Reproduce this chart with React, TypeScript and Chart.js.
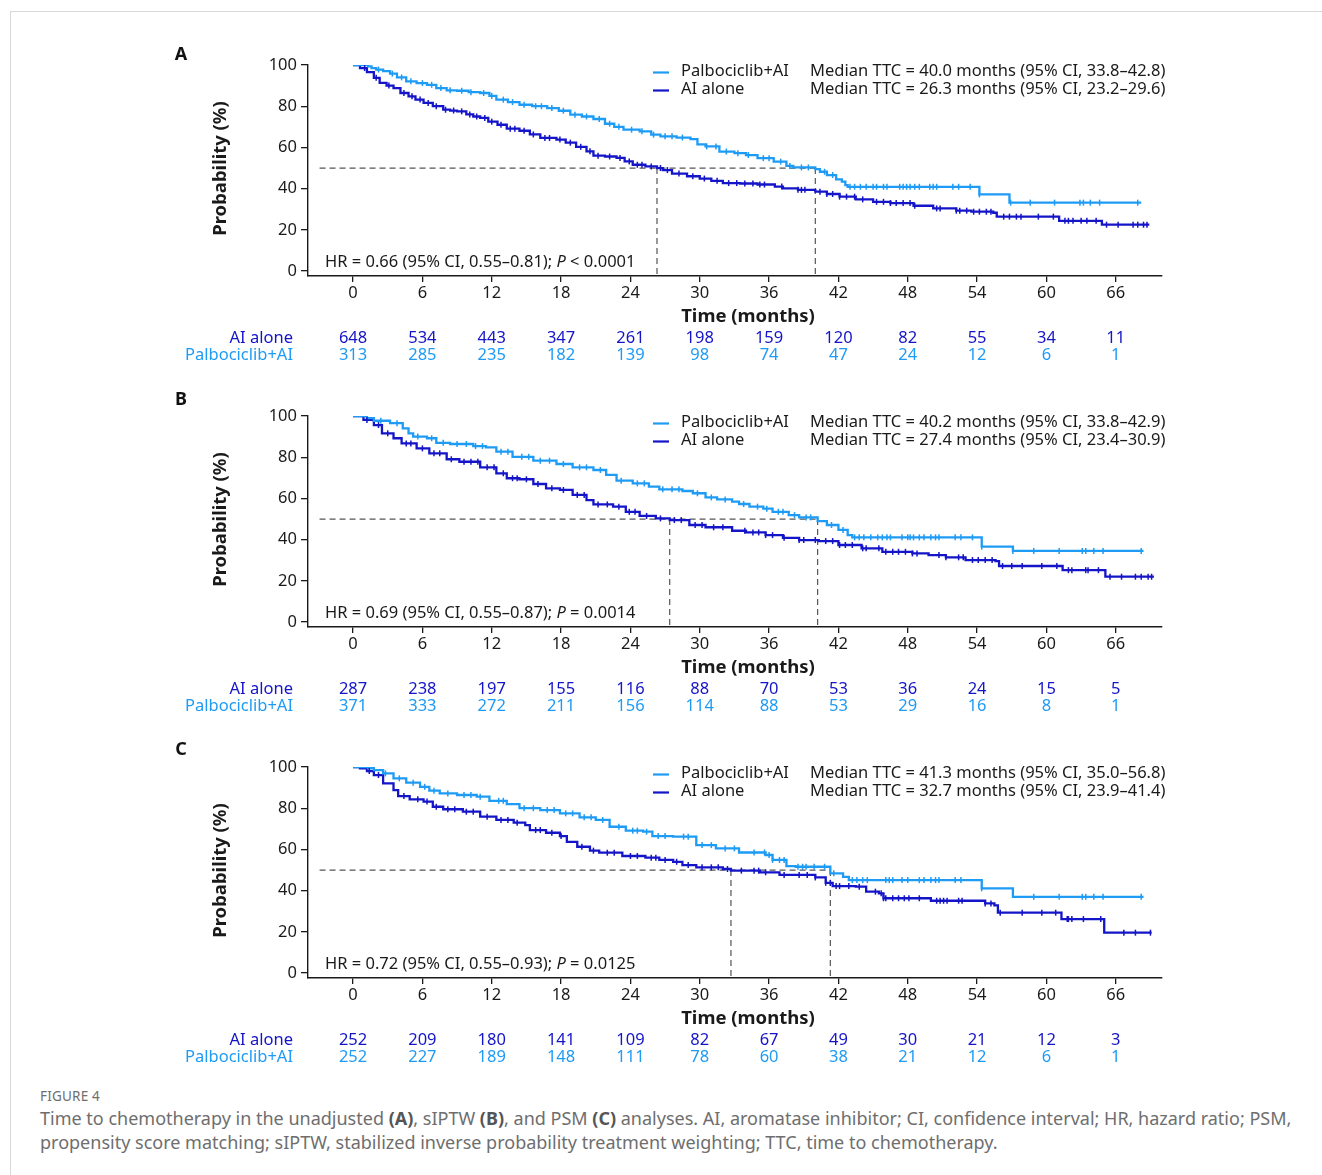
import React, { useEffect, useRef } from 'react';
import { Chart, registerables } from 'chart.js';

Chart.register(...registerables);

const LIGHT = '#1E9BF5';
const DARK = '#1414C8';
const INK = '#1a1a1a';
const FONT = '"Noto Sans", "Open Sans", sans-serif';

// ---- shared axis ticks ----
const xTicks = [0, 6, 12, 18, 24, 30, 36, 42, 48, 54, 60, 66];
const yTicks = [0, 20, 40, 60, 80, 100];

// ---- Panel A (unadjusted) ----
const aPalboCurve: [number, number][] = [
  [0, 100], [1.3, 99.3], [1.6, 98.5], [2.0, 97.8], [2.6, 97.0], [3.2, 95.8], [3.8, 94.0], [4.6, 92.1],
  [5.5, 91.2], [6.4, 90.4], [7.2, 88.8], [8.1, 87.7], [9.0, 87.5], [10.0, 86.8], [11.0, 86.4], [11.8, 85.0],
  [12.4, 83.2], [13.4, 82.0], [14.4, 80.7], [15.5, 80.0], [16.8, 79.1], [17.8, 77.8], [18.8, 75.9], [19.8, 75.0],
  [20.8, 73.8], [21.8, 71.5], [22.6, 70.0], [23.4, 68.6], [24.8, 67.8], [25.8, 66.2], [26.6, 65.4], [28.0, 64.8],
  [29.2, 64.0], [29.8, 61.5], [30.5, 60.5], [31.7, 58.0], [33.0, 57.2], [34.0, 56.3], [35.0, 54.8], [36.4, 53.1],
  [37.5, 51.0], [38.1, 50.3], [40.0, 49.5], [40.4, 48.2], [41.0, 46.6], [41.8, 44.5], [42.3, 43.4], [42.6, 41.7],
  [42.8, 40.9], [54.2, 37.2], [56.8, 33.2], [68.2, 33.2],
];
const aAiCurve: [number, number][] = [
  [0, 100], [0.6, 98.5], [1.2, 96.5], [1.8, 93.8], [2.3, 91.3], [2.9, 90.0], [3.5, 88.8], [4.1, 86.4],
  [4.8, 84.8], [5.4, 83.2], [6.1, 81.6], [6.9, 80.0], [7.8, 78.3], [8.4, 77.9], [9.0, 77.5], [9.8, 76.0],
  [10.4, 75.0], [11.0, 74.3], [11.7, 72.5], [12.5, 71.0], [13.3, 69.1], [14.4, 68.1], [15.3, 66.3], [16.2, 64.6],
  [17.6, 63.8], [18.4, 62.3], [19.3, 60.3], [20.2, 58.1], [20.8, 56.0], [21.8, 55.6], [22.8, 54.9], [23.5, 53.2],
  [24.2, 51.6], [25.3, 50.8], [26.3, 50.0], [26.8, 49.0], [27.6, 47.3], [28.9, 46.0], [30.0, 44.9], [31.0, 43.8],
  [32.0, 42.7], [33.5, 42.5], [35.0, 42.0], [36.5, 41.0], [37.2, 40.1], [38.5, 39.4], [40.0, 38.5], [41.0, 37.4],
  [42.1, 36.1], [43.5, 34.8], [45.0, 33.6], [46.5, 33.0], [48.5, 31.7], [50.2, 30.4], [52.2, 29.3], [53.5, 28.8],
  [55.4, 28.3], [55.7, 26.4], [61.1, 24.4], [64.8, 22.5], [68.9, 22.5],
];
const aPalboCensor = [
  2.2, 3.4, 4.2, 5.0, 6.0, 6.8, 7.6, 8.4, 9.4, 10.2, 11.3, 12.0, 13.0, 13.8, 14.8, 15.8, 16.3, 17.2, 18.2, 19.2,
  20.2, 21.3, 22.2, 23.0, 24.1, 25.0, 26.0, 27.0, 27.6, 28.5, 30.6, 31.4, 32.3, 33.3, 34.2, 35.5, 36.0, 37.0, 37.8,
  38.8, 39.4, 40.8, 41.5, 43.0, 43.4, 43.9, 44.4, 45.0, 45.3, 45.9, 46.2, 47.3, 47.6, 47.9, 48.2, 48.6, 49.0, 49.9,
  50.2, 50.5, 51.9, 52.4, 53.4, 54.2, 56.9, 58.6, 60.7, 62.9, 63.2, 63.8, 64.6, 67.9,
];
const aAiCensor = [
  1.0, 2.0, 3.1, 4.4, 5.1, 5.8, 6.5, 7.2, 8.0, 8.7, 9.4, 10.1, 10.7, 11.4, 12.0, 12.8, 13.6, 14.0, 14.8, 15.6, 16.6,
  17.0, 17.9, 18.8, 19.7, 20.5, 21.2, 22.2, 23.1, 23.9, 24.6, 25.0, 25.8, 26.6, 27.2, 28.2, 29.4, 30.4, 31.5, 32.5,
  33.2, 33.9, 34.6, 35.2, 35.6, 37.1, 38.5, 38.8, 39.1, 40.4, 41.0, 41.5, 42.1, 42.7, 43.4, 44.1, 45.3, 45.9, 46.5,
  47.0, 47.6, 48.2, 48.6, 50.5, 50.8, 52.2, 52.5, 53.1, 53.7, 54.2, 54.8, 55.2, 56.3, 56.8, 57.4, 57.8, 59.3, 60.6,
  61.6, 61.9, 62.3, 63.0, 63.5, 64.3, 65.2, 66.2, 67.5, 67.9, 68.4, 68.7,
];
const aRiskAi = [648, 534, 443, 347, 261, 198, 159, 120, 82, 55, 34, 11];
const aRiskPalbo = [313, 285, 235, 182, 139, 98, 74, 47, 24, 12, 6, 1];
const aMedianPalbo = [40.0, 33.8, 42.8];
const aMedianAi = [26.3, 23.2, 29.6];
const aHr = [0.66, 0.55, 0.81];
const aP = ['<', '0.0001'];

// ---- Panel B (sIPTW) ----
const bPalboCurve: [number, number][] = [
  [0, 100], [1.2, 99.0], [1.8, 97.7], [3.2, 96.5], [4.3, 94.0], [4.8, 91.6], [5.2, 90.0], [6.4, 89.2],
  [7.2, 87.0], [8.4, 86.4], [10.4, 85.4], [11.5, 84.8], [12.4, 82.7], [13.8, 80.2], [15.6, 78.3], [17.6, 76.7],
  [19.0, 75.1], [20.8, 73.8], [21.9, 71.4], [22.8, 68.6], [24.2, 67.3], [25.6, 65.7], [26.5, 64.4], [28.5, 63.6],
  [29.4, 62.5], [30.5, 60.5], [31.5, 59.5], [32.8, 58.4], [33.4, 57.3], [34.3, 56.0], [35.5, 55.0], [36.3, 53.5],
  [37.7, 51.9], [38.6, 50.8], [40.2, 49.0], [41.0, 47.1], [42.0, 44.7], [42.8, 42.2], [43.2, 41.1], [54.4, 36.6],
  [57.1, 34.5], [68.4, 34.5],
];
const bAiCurve: [number, number][] = [
  [0, 100], [0.9, 98.1], [1.8, 95.6], [2.5, 91.6], [3.5, 89.2], [4.2, 86.7], [5.5, 84.3], [6.6, 81.9],
  [8.1, 79.0], [9.2, 77.8], [11.0, 75.1], [12.4, 72.2], [13.3, 69.8], [14.4, 69.3], [15.6, 67.0], [16.7, 64.9],
  [17.9, 64.1], [19.0, 61.7], [20.2, 59.2], [20.8, 57.1], [22.5, 56.0], [23.6, 53.5], [24.8, 51.5], [26.2, 50.3],
  [27.4, 49.5], [29.1, 47.1], [30.5, 46.0], [32.8, 44.3], [34.0, 43.5], [35.7, 42.2], [37.2, 40.9], [38.6, 39.8],
  [40.3, 39.3], [42.0, 37.4], [44.0, 35.8], [45.8, 34.1], [48.4, 33.3], [49.8, 32.5], [51.3, 31.4], [53.0, 30.1],
  [55.6, 29.6], [55.9, 27.2], [61.4, 25.2], [65.1, 22.0], [69.3, 22.0],
];
const bPalboCensor = [
  2.4, 3.8, 5.6, 6.8, 7.8, 9.0, 9.8, 10.6, 11.2, 12.8, 13.4, 14.6, 15.2, 16.2, 17.0, 18.2, 19.6, 20.2, 21.4, 23.2,
  24.6, 25.2, 26.8, 27.6, 28.2, 29.8, 31.0, 32.2, 33.8, 35.0, 35.8, 36.8, 37.2, 38.2, 39.2, 39.6, 41.4, 42.4, 43.4,
  43.8, 44.2, 44.8, 45.4, 45.8, 46.2, 46.5, 47.5, 48.0, 48.2, 48.5, 49.0, 49.4, 50.0, 50.4, 50.7, 52.1, 52.6, 53.6,
  54.4, 57.1, 58.9, 61.1, 63.1, 63.4, 64.1, 64.9, 68.2,
];
const bAiCensor = [
  1.2, 2.2, 3.0, 4.6, 5.0, 6.0, 7.0, 7.5, 8.5, 9.6, 10.2, 10.8, 11.6, 12.2, 13.0, 13.8, 14.2, 15.0, 16.0, 17.2, 18.2,
  19.4, 20.0, 21.2, 22.0, 23.0, 23.9, 24.4, 25.4, 26.6, 27.8, 28.4, 29.6, 30.2, 31.2, 32.0, 33.9, 34.6, 35.1, 35.7,
  36.3, 37.3, 38.6, 39.0, 40.0, 40.9, 41.5, 42.1, 42.6, 43.2, 44.1, 44.4, 45.5, 46.1, 46.7, 47.2, 47.8, 48.4, 48.8,
  50.7, 51.3, 52.4, 52.8, 53.6, 54.1, 54.7, 55.3, 56.2, 57.0, 57.9, 59.6, 60.9, 61.9, 62.2, 63.4, 63.6, 64.5, 65.5,
  66.5, 67.7, 68.2, 68.8, 69.1,
];
const bRiskAi = [287, 238, 197, 155, 116, 88, 70, 53, 36, 24, 15, 5];
const bRiskPalbo = [371, 333, 272, 211, 156, 114, 88, 53, 29, 16, 8, 1];
const bMedianPalbo = [40.2, 33.8, 42.9];
const bMedianAi = [27.4, 23.4, 30.9];
const bHr = [0.69, 0.55, 0.87];
const bP = ['=', '0.0014'];

// ---- Panel C (PSM) ----
const cPalboCurve: [number, number][] = [
  [0, 100], [1.3, 99.4], [1.8, 98.5], [2.6, 96.9], [3.5, 94.5], [4.6, 92.4], [5.8, 90.4], [6.6, 88.5],
  [7.5, 87.2], [9.0, 86.4], [10.7, 85.6], [11.8, 83.6], [13.3, 82.0], [14.4, 80.0], [16.2, 79.1], [17.9, 77.5],
  [19.6, 75.6], [21.0, 74.3], [22.2, 71.0], [23.6, 69.1], [25.1, 68.6], [25.9, 66.5], [27.7, 66.2], [29.7, 62.1],
  [31.4, 60.5], [33.4, 58.5], [35.7, 57.3], [36.3, 54.9], [37.5, 51.9], [38.3, 51.6], [41.3, 48.4], [42.4, 46.7],
  [42.9, 45.1], [54.4, 41.1], [57.1, 37.0], [68.4, 37.0],
];
const cAiCurve: [number, number][] = [
  [0, 100], [0.6, 99.4], [1.2, 98.0], [1.8, 96.1], [2.6, 92.1], [3.5, 88.8], [3.9, 85.9], [4.9, 84.3],
  [6.1, 83.2], [6.9, 80.7], [7.8, 79.5], [9.5, 78.3], [11.0, 75.9], [12.4, 74.3], [13.9, 73.0], [14.9, 71.8],
  [15.3, 69.4], [16.7, 68.1], [17.9, 66.5], [18.5, 63.7], [19.4, 61.3], [20.5, 59.4], [21.3, 58.4], [23.3, 56.8],
  [25.3, 56.0], [26.5, 54.9], [27.7, 54.0], [28.5, 52.4], [29.7, 51.3], [32.0, 50.5], [32.7, 49.7], [35.2, 48.9],
  [36.9, 47.6], [40.0, 46.4], [40.9, 43.8], [41.5, 42.2], [43.5, 41.9], [44.4, 39.5], [45.5, 38.7], [45.9, 36.3],
  [50.0, 35.1], [54.7, 33.8], [55.5, 32.8], [55.8, 29.3], [61.3, 26.2], [65.0, 19.6], [69.1, 19.6],
];
const cPalboCensor = [
  2.8, 4.0, 5.2, 6.2, 7.0, 8.2, 9.6, 10.2, 11.0, 12.6, 13.0, 14.8, 15.6, 16.8, 17.4, 18.4, 19.0, 20.0, 20.6, 21.6,
  23.0, 24.2, 24.6, 25.4, 26.4, 27.0, 28.6, 29.0, 30.2, 31.0, 32.2, 33.0, 34.7, 35.6, 36.0, 36.3, 36.9, 37.3, 38.5,
  38.9, 39.2, 39.9, 40.8, 41.6, 43.2, 43.6, 44.1, 44.5, 46.1, 46.4, 46.7, 47.5, 48.0, 49.0, 49.4, 50.0, 50.4, 50.7,
  52.1, 52.6, 54.4, 58.9, 61.1, 63.1, 63.4, 64.1, 64.9, 68.2,
];
const cAiCensor = [
  1.4, 2.2, 4.4, 5.6, 6.4, 7.2, 8.2, 8.8, 9.8, 10.4, 11.6, 12.8, 13.4, 14.2, 15.8, 16.2, 17.2, 18.0, 19.8, 20.8,
  22.0, 22.6, 24.0, 24.6, 25.8, 26.2, 27.0, 28.0, 29.0, 30.2, 31.0, 31.6, 32.4, 33.6, 34.7, 35.1, 35.7, 37.3, 38.6,
  39.3, 40.0, 40.9, 41.3, 41.8, 42.1, 42.9, 43.8, 45.2, 45.7, 45.9, 46.1, 46.7, 47.2, 47.7, 48.1, 49.0, 50.5, 50.8,
  51.1, 51.4, 52.4, 52.7, 54.7, 55.2, 56.0, 57.9, 59.6, 60.8, 61.8, 61.9, 62.2, 63.2, 64.7, 66.7, 67.7, 69.0,
];
const cRiskAi = [252, 209, 180, 141, 109, 82, 67, 49, 30, 21, 12, 3];
const cRiskPalbo = [252, 227, 189, 148, 111, 78, 60, 38, 21, 12, 6, 1];
const cMedianPalbo = [41.3, 35.0, 56.8];
const cMedianAi = [32.7, 23.9, 41.4];
const cHr = [0.72, 0.55, 0.93];
const cP = ['=', '0.0125'];

const palboLabel = 'Palbociclib+AI';
const aiLabel = 'AI alone';

type PanelCfg = {
  letter: string;
  letterGap: number;
  palbo: [number, number][];
  ai: [number, number][];
  palboCensor: number[];
  aiCensor: number[];
  riskAi: number[];
  riskPalbo: number[];
  medPalbo: number[];
  medAi: number[];
  hr: number[];
  p: string[];
};

const panels: PanelCfg[] = [
  { letter: 'A', letterGap: 10, palbo: aPalboCurve, ai: aAiCurve, palboCensor: aPalboCensor, aiCensor: aAiCensor, riskAi: aRiskAi, riskPalbo: aRiskPalbo, medPalbo: aMedianPalbo, medAi: aMedianAi, hr: aHr, p: aP },
  { letter: 'B', letterGap: 16, palbo: bPalboCurve, ai: bAiCurve, palboCensor: bPalboCensor, aiCensor: bAiCensor, riskAi: bRiskAi, riskPalbo: bRiskPalbo, medPalbo: bMedianPalbo, medAi: bMedianAi, hr: bHr, p: bP },
  { letter: 'C', letterGap: 17, palbo: cPalboCurve, ai: cAiCurve, palboCensor: cPalboCensor, aiCensor: cAiCensor, riskAi: cRiskAi, riskPalbo: cRiskPalbo, medPalbo: cMedianPalbo, medAi: cMedianAi, hr: cHr, p: cP },
];

function stepValue(curve: [number, number][], t: number): number {
  let v = curve[0][1];
  for (const [x, y] of curve) {
    if (x <= t) v = y;
    else break;
  }
  return v;
}

const fmt1 = (v: number) => v.toFixed(1);
const fmt2 = (v: number) => v.toFixed(2);
const medText = (m: number[]) => `Median TTC = ${fmt1(m[0])} months (95% CI, ${fmt1(m[1])}\u2013${fmt1(m[2])})`;

const CANVAS_W = 1322;
const CANVAS_H = 345;
const X_MIN = -3.9;
const X_MAX = 70;
const Y_MIN = -2.4;
const Y_MAX = 100;
const TXT = 16.5;

function makeOverlay(cfg: PanelCfg) {
  return {
    id: 'overlay' + cfg.letter,
    afterDraw(chart: any) {
      const { ctx, chartArea } = chart;
      const xs = chart.scales.x;
      const top = chartArea.top;
      const bottom = chartArea.bottom;
      ctx.save();
      ctx.textBaseline = 'middle';

      // panel letter
      ctx.fillStyle = '#111';
      ctx.font = `bold 18px ${FONT}`;
      ctx.textAlign = 'center';
      ctx.fillText(cfg.letter, 181, top - cfg.letterGap);

      // y title
      ctx.save();
      ctx.translate(221, (top + bottom) / 2 - 2);
      ctx.rotate(-Math.PI / 2);
      ctx.font = `bold 18.5px ${FONT}`;
      ctx.fillStyle = INK;
      ctx.fillText('Probability (%)', 0, 0);
      ctx.restore();

      // x title
      ctx.font = `bold 18.5px ${FONT}`;
      ctx.fillStyle = INK;
      ctx.fillText('Time (months)', 748, bottom + 41);

      // legend
      const rows = [
        { color: LIGHT, label: palboLabel, text: medText(cfg.medPalbo), y: top + 6.5 },
        { color: DARK, label: aiLabel, text: medText(cfg.medAi), y: top + 24.5 },
      ];
      for (const r of rows) {
        ctx.strokeStyle = r.color;
        ctx.lineWidth = 2.2;
        ctx.beginPath();
        ctx.moveTo(653, r.y + 1);
        ctx.lineTo(669, r.y + 1);
        ctx.stroke();
        ctx.font = `${TXT}px ${FONT}`;
        ctx.fillStyle = INK;
        ctx.textAlign = 'left';
        ctx.fillText(r.label, 681, r.y);
        ctx.fillText(r.text, 810, r.y);
      }

      // HR text with italic P
      ctx.textAlign = 'left';
      ctx.fillStyle = INK;
      const part1 = `HR = ${fmt2(cfg.hr[0])} (95% CI, ${fmt2(cfg.hr[1])}\u2013${fmt2(cfg.hr[2])}); `;
      const part3 = ` ${cfg.p[0]} ${cfg.p[1]}`;
      let hx = 325;
      const hy = bottom - 14;
      ctx.font = `${TXT}px ${FONT}`;
      ctx.fillText(part1, hx, hy);
      hx += ctx.measureText(part1).width;
      ctx.font = `italic ${TXT}px ${FONT}`;
      ctx.fillText('P', hx, hy);
      hx += ctx.measureText('P').width;
      ctx.font = `${TXT}px ${FONT}`;
      ctx.fillText(part3, hx, hy);

      // risk table
      ctx.font = `${TXT}px ${FONT}`;
      ctx.textAlign = 'right';
      ctx.fillStyle = DARK;
      ctx.fillText(aiLabel, 293, bottom + 62.5);
      ctx.fillStyle = LIGHT;
      ctx.fillText(palboLabel, 293, bottom + 79.5);
      ctx.textAlign = 'center';
      xTicks.forEach((t, i) => {
        const px = xs.getPixelForValue(t);
        ctx.fillStyle = DARK;
        ctx.fillText(String(cfg.riskAi[i]), px, bottom + 62.5);
        ctx.fillStyle = LIGHT;
        ctx.fillText(String(cfg.riskPalbo[i]), px, bottom + 79.5);
      });
      ctx.restore();
    },
  };
}

function PanelChart({ cfg, top }: { cfg: PanelCfg; top: number }) {
  const ref = useRef<HTMLCanvasElement>(null);
  useEffect(() => {
    if (!ref.current) return;
    const toPts = (c: [number, number][]) => c.map(([x, y]) => ({ x, y }));
    const censorPts = (times: number[], curve: [number, number][]) =>
      times.map((t) => ({ x: t, y: stepValue(curve, t) }));
    const dash = { borderColor: '#555', borderWidth: 1.2, borderDash: [6, 4], pointRadius: 0, fill: false };
    const medP = cfg.medPalbo[0];
    const medA = cfg.medAi[0];
    const censorStyle = { showLine: false, pointStyle: 'line', rotation: 90, pointRadius: 3, pointBorderWidth: 1.5 };
    const chart = new Chart(ref.current, {
      type: 'line',
      data: {
        datasets: [
          { data: censorPts(cfg.palboCensor, cfg.palbo) as any, ...censorStyle, pointBorderColor: LIGHT, borderColor: LIGHT },
          { data: censorPts(cfg.aiCensor, cfg.ai) as any, ...censorStyle, pointBorderColor: DARK, borderColor: DARK },
          { data: toPts(cfg.palbo) as any, stepped: 'before', borderColor: LIGHT, borderWidth: 2.3, pointRadius: 0, fill: false },
          { data: toPts(cfg.ai) as any, stepped: 'before', borderColor: DARK, borderWidth: 2.3, pointRadius: 0, fill: false },
          { data: [{ x: -2.9, y: 50 }, { x: medP, y: 50 }] as any, ...dash },
          { data: [{ x: medA, y: 50 }, { x: medA, y: Y_MIN }] as any, ...dash },
          { data: [{ x: medP, y: 50 }, { x: medP, y: Y_MIN }] as any, ...dash },
        ],
      },
      options: {
        responsive: false,
        maintainAspectRatio: false,
        animation: false,
        events: [],
        layout: { padding: { left: 0, right: CANVAS_W - 1162, top: 35, bottom: 0 } },
        plugins: { legend: { display: false }, tooltip: { enabled: false } },
        scales: {
          x: {
            type: 'linear',
            min: X_MIN,
            max: X_MAX,
            afterFit: (s: any) => { s.height = CANVAS_H - 35 - 211; },
            afterBuildTicks: (s: any) => { s.ticks = xTicks.map((v) => ({ value: v })); },
            grid: { drawOnChartArea: false, drawTicks: true, tickLength: 6, color: INK, lineWidth: 1.3 },
            border: { display: true, color: INK, width: 1.4 },
            ticks: { font: { family: FONT, size: TXT }, color: INK, padding: 1, maxRotation: 0, autoSkip: false },
          },
          y: {
            type: 'linear',
            min: Y_MIN,
            max: Y_MAX,
            afterFit: (s: any) => { s.width = 308; },
            afterBuildTicks: (s: any) => { s.ticks = yTicks.map((v) => ({ value: v })); },
            grid: { drawOnChartArea: false, drawTicks: true, tickLength: 7, color: INK, lineWidth: 1.3 },
            border: { display: true, color: INK, width: 1.4 },
            ticks: { font: { family: FONT, size: TXT }, color: INK, padding: 4 },
          },
        },
      } as any,
      plugins: [makeOverlay(cfg)],
    });
    return () => chart.destroy();
  }, [cfg]);
  return (
    <canvas
      ref={ref}
      width={CANVAS_W}
      height={CANVAS_H}
      style={{ position: 'absolute', left: 0, top, width: CANVAS_W, height: CANVAS_H, display: 'block' }}
    />
  );
}

export default function App() {
  const panelTops = [30, 381, 732];
  return (
    <div style={{ position: 'absolute', left: 0, top: 0, width: 1322, height: 1175, background: '#fff', overflow: 'hidden', fontFamily: FONT }}>
      <div style={{ position: 'absolute', left: 10, top: 11, width: 1320, height: 1170, borderTop: '1px solid #d8d8d8', borderLeft: '1px solid #d8d8d8' }} />
      {panels.map((p, i) => (
        <PanelChart key={p.letter} cfg={p} top={panelTops[i]} />
      ))}
      <div style={{ position: 'absolute', left: 40, top: 1087, fontSize: 13.5, color: '#6e6e6e', letterSpacing: 0.2 }}>FIGURE 4</div>
      <div style={{ position: 'absolute', left: 40, top: 1106, fontSize: 18, lineHeight: '24px', color: '#6e6e6e', whiteSpace: 'nowrap' }}>
        Time to chemotherapy in the unadjusted <b style={{ color: '#555' }}>(A)</b>, sIPTW <b style={{ color: '#555' }}>(B)</b>, and PSM <b style={{ color: '#555' }}>(C)</b> analyses. AI, aromatase inhibitor; CI, confidence interval; HR, hazard ratio; PSM,
        <br />
        propensity score matching; sIPTW, stabilized inverse probability treatment weighting; TTC, time to chemotherapy.
      </div>
    </div>
  );
}
